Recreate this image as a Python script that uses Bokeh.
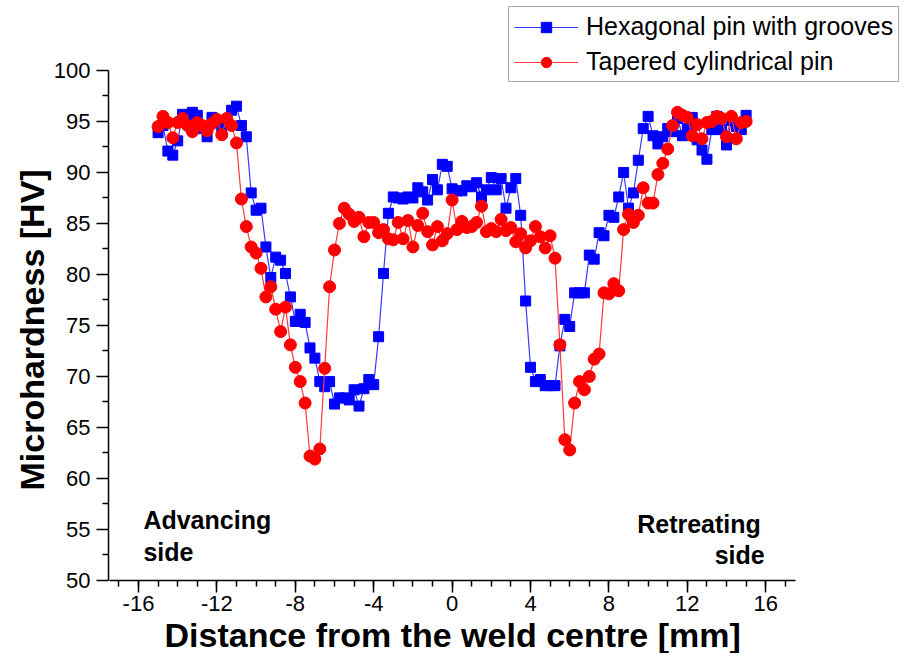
from bokeh.plotting import figure
from bokeh.models import FixedTicker, Label, ColumnDataSource, Range1d, Title
from bokeh.embed import file_html
from bokeh.resources import INLINE

# ---------------- data ----------------
positions = [-15.0, -14.75, -14.5, -14.25, -14.0, -13.75, -13.5, -13.25, -13.0, -12.75,
             -12.5, -12.25, -12.0, -11.75, -11.5, -11.25, -11.0, -10.75, -10.5, -10.25,
             -10.0, -9.75, -9.5, -9.25, -9.0, -8.75, -8.5, -8.25, -8.0, -7.75,
             -7.5, -7.25, -7.0, -6.75, -6.5, -6.25, -6.0, -5.75, -5.5, -5.25,
             -5.0, -4.75, -4.5, -4.25, -4.0, -3.75, -3.5, -3.25, -3.0, -2.75,
             -2.5, -2.25, -2.0, -1.75, -1.5, -1.25, -1.0, -0.75, -0.5, -0.25,
             0.0, 0.25, 0.5, 0.75, 1.0, 1.25, 1.5, 1.75, 2.0, 2.25,
             2.5, 2.75, 3.0, 3.25, 3.5, 3.75, 4.0, 4.25, 4.5, 4.75,
             5.0, 5.25, 5.5, 5.75, 6.0, 6.25, 6.5, 6.75, 7.0, 7.25,
             7.5, 7.75, 8.0, 8.25, 8.5, 8.75, 9.0, 9.25, 9.5, 9.75,
             10.0, 10.25, 10.5, 10.75, 11.0, 11.25, 11.5, 11.75, 12.0, 12.25,
             12.5, 12.75, 13.0, 13.25, 13.5, 13.75, 14.0, 14.25, 14.5, 14.75,
             15.0]

hexagonal = [93.9, 94.6, 92.1, 91.7, 93.1, 95.7, 95.5, 95.9, 95.6, 94.3,
             93.5, 95.4, 94.9, 94.5, 94.9, 96.1, 96.5, 94.6, 93.5, 88.0,
             86.3, 86.5, 82.7, 79.7, 81.7, 81.4, 80.1, 77.8, 75.4, 76.1,
             75.3, 72.8, 71.8, 69.5, 69.0, 69.5, 67.3, 67.9, 67.9, 67.7,
             68.7, 67.1, 68.8, 69.7, 69.2, 73.9, 80.1, 86.0, 87.6, 87.5,
             87.4, 87.6, 87.5, 88.5, 88.1, 87.3, 89.3, 88.3, 90.8, 90.6,
             88.4, 88.2, 88.2, 88.7, 88.6, 89.0, 87.6, 88.3, 89.5, 88.3,
             89.4, 86.5, 88.5, 89.4, 85.8, 77.4, 70.9, 69.5, 69.7, 69.1,
             69.1, 69.1, 73.0, 75.6, 74.9, 78.2, 78.2, 78.2, 81.9, 81.5,
             84.1, 83.8, 85.8, 85.6, 87.6, 90.0, 86.5, 88.0, 91.2, 94.3,
             95.5, 93.6, 92.8, 93.5, 94.3, 94.0, 95.3, 93.6, 94.3, 95.4,
             93.2, 92.2, 91.3, 94.2, 95.5, 94.2, 92.7, 95.1, 94.5, 94.2,
             95.6]

tapered = [94.5, 95.5, 94.9, 93.4, 94.9, 95.3, 94.6, 94.0, 94.9, 94.6,
           94.1, 94.8, 95.2, 93.7, 95.3, 94.6, 92.9, 87.4, 84.7, 82.7,
           82.1, 80.6, 77.8, 78.8, 76.6, 74.4, 76.8, 73.1, 70.9, 69.5,
           67.4, 62.2, 61.9, 62.9, 70.8, 78.8, 82.4, 85.0, 86.5, 85.9,
           85.2, 85.6, 83.7, 85.1, 85.1, 84.1, 84.4, 83.5, 83.4, 85.1,
           83.5, 85.3, 82.7, 84.8, 86.0, 84.2, 82.9, 84.7, 83.3, 84.0,
           87.3, 84.4, 85.2, 84.6, 84.7, 85.1, 86.7, 84.2, 84.5, 84.2,
           85.4, 84.3, 84.6, 83.2, 84.0, 82.6, 83.3, 84.7, 83.7, 82.6,
           83.8, 81.6, 73.1, 63.8, 62.8, 67.4, 69.5, 68.7, 70.0, 71.7,
           72.2, 78.2, 78.1, 79.1, 78.4, 84.4, 85.9, 85.1, 85.8, 88.5,
           87.0, 87.0, 89.8, 90.9, 92.3, 94.6, 95.9, 95.6, 95.4, 93.6,
           94.7, 93.3, 94.9, 95.0, 95.5, 95.3, 93.5, 95.5, 93.3, 94.9,
           95.0]

series_names = ["Hexagonal pin with grooves", "Tapered cylindrical pin"]
x_ticks = [-16, -12, -8, -4, 0, 4, 8, 12, 16]
x_tick_labels = ["-16", "-12", "-8", "-4", "0", "4", "8", "12", "16"]
y_ticks = [50, 55, 60, 65, 70, 75, 80, 85, 90, 95, 100]
y_tick_labels = ["50", "55", "60", "65", "70", "75", "80", "85", "90", "95", "100"]
x_title = "Distance from the weld centre [mm]"
y_title = "Microhardness [HV]"
side_labels = [("Advancing", "side"), ("Retreating", "side")]

FONT = "Liberation Sans"

# frame spans the whole upper/right part; visible axes are limited with bounds
p = figure(width=904, height=653, output_backend="svg", toolbar_location=None,
           x_range=Range1d(-17.53, 23.08), y_range=Range1d(50, 106.86),
           min_border_left=108, min_border_right=0, min_border_top=0,
           min_border_bottom=73)
p.outline_line_color = None
p.xgrid.visible = False
p.ygrid.visible = False
p.background_fill_color = "white"
p.border_fill_color = "white"

src = ColumnDataSource(dict(x=positions, hex=hexagonal, tap=tapered))

p.line("x", "hex", source=src, line_color="#3a3aff", line_width=1.2,
       legend_label=series_names[0])
p.scatter("x", "hex", source=src, marker="square", size=10,
          fill_color="#0000ff", line_color="#0000ff", legend_label=series_names[0])
p.line("x", "tap", source=src, line_color="#ff3a3a", line_width=1.2,
       legend_label=series_names[1])
p.scatter("x", "tap", source=src, marker="circle", size=12,
          fill_color="#ff0000", line_color="#ff0000", legend_label=series_names[1])

# axes
xa = p.xaxis[0]
xa.bounds = (-17.5, 17.5)
xa.ticker = FixedTicker(ticks=x_ticks, minor_ticks=list(range(-17, 18)))
xa.major_label_overrides = {t: l for t, l in zip(x_ticks, x_tick_labels)}
ya = p.yaxis[0]
ya.bounds = (50, 100)
ya.ticker = FixedTicker(ticks=y_ticks, minor_ticks=[v + 2.5 for v in y_ticks[:-1]])
ya.major_label_overrides = {t: l for t, l in zip(y_ticks, y_tick_labels)}

for ax in (xa, ya):
    ax.axis_line_color = "black"
    ax.axis_line_width = 1.5
    ax.major_tick_line_color = "black"
    ax.major_tick_line_width = 1.5
    ax.minor_tick_line_color = "black"
    ax.minor_tick_line_width = 1.5
    ax.major_tick_in = 0
    ax.major_tick_out = 12
    ax.minor_tick_in = 0
    ax.minor_tick_out = 6
    ax.major_label_text_font = FONT
    ax.major_label_text_font_size = "22px"
    ax.major_label_text_color = "black"

xa.major_label_standoff = 3
ya.major_label_standoff = 6

# axis titles as side-panel titles, centred on the drawn axis extent
p.add_layout(Title(text=x_title, align="left", offset=56, standoff=0,
                   text_font=FONT, text_font_style="bold", text_font_size="34px",
                   text_color="black"), "below")
p.add_layout(Title(text=y_title, align="left", offset=90, standoff=0,
                   text_font=FONT, text_font_style="bold", text_font_size="34px",
                   text_color="black"), "left")

# annotations
for txt, xx, yy, align in [(side_labels[0][0], -15.75, 55.9, "left"),
                           (side_labels[0][1], -15.75, 52.8, "left"),
                           (side_labels[1][0], 15.75, 55.5, "right"),
                           (side_labels[1][1], 15.95, 52.5, "right")]:
    p.add_layout(Label(x=xx, y=yy, text=txt, text_align=align, text_baseline="alphabetic",
                       text_font=FONT, text_font_style="bold", text_font_size="25px",
                       text_color="black"))

# legend
lg = p.legend[0]
lg.location = (400, 498)
lg.margin = 0
lg.padding = 5
lg.spacing = 6
lg.glyph_width = 64
lg.glyph_height = 26
lg.label_height = 26
lg.label_standoff = 8
lg.label_text_font = FONT
lg.label_text_font_size = "25px"
lg.label_text_color = "black"
lg.border_line_color = "#555555"
lg.border_line_width = 1
lg.background_fill_color = "white"
lg.background_fill_alpha = 1.0

open("out.html", "w").write(file_html(p, INLINE))
